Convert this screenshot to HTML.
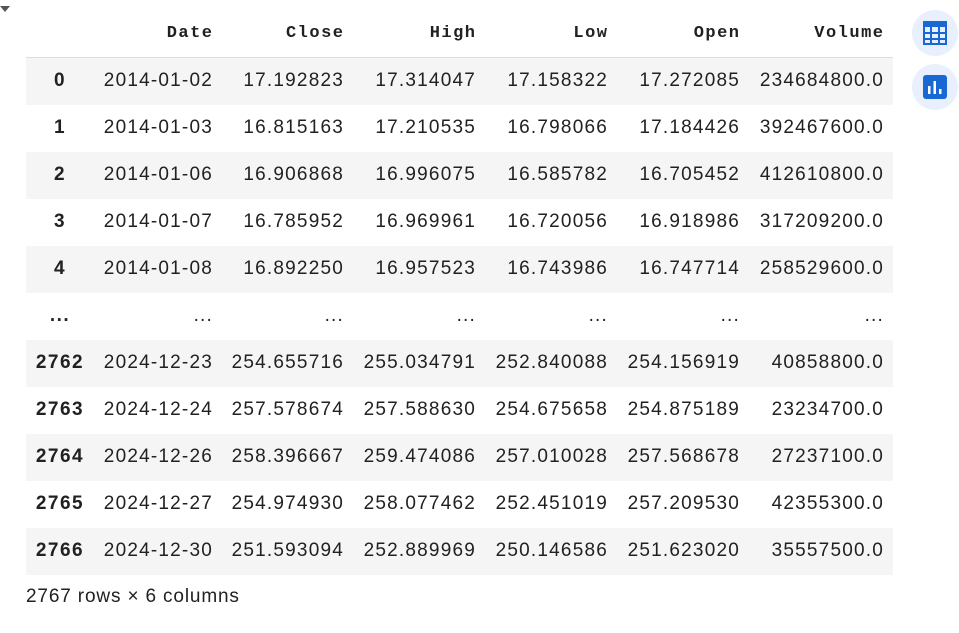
<!DOCTYPE html>
<html><head><meta charset="utf-8"><style>
body{margin:0;width:959px;height:633px;background:#fff;overflow:hidden;font-family:"Liberation Sans",sans-serif;color:#212121;position:relative}
table{position:absolute;left:26px;top:0;border-collapse:collapse;table-layout:fixed;width:867px;font-size:19px;letter-spacing:1.2px}
th{font-family:"Liberation Mono",monospace;font-weight:bold;font-size:17px;letter-spacing:1.5px;height:57px;text-align:right;padding:0 6.5px 0 8px;border-bottom:1px solid #ddd;box-sizing:border-box;vertical-align:middle;padding-top:10px}
td{height:47px;text-align:right;padding:0 7px 0 8px;vertical-align:middle}
td.i{text-align:center;font-weight:bold;padding:0;letter-spacing:1.5px}
tbody tr:nth-child(odd){background:#f5f5f5}
.tri{position:absolute;left:0;top:6px;width:0;height:0;border-left:5px solid transparent;border-right:5px solid transparent;border-top:6px solid #555}
.ic{position:absolute;left:912px;width:46px;height:46px;border-radius:50%;background:#e8f0fe}
.foot{position:absolute;left:26px;top:586px;font-size:19px;letter-spacing:0.85px}
</style></head><body>
<div class="tri"></div>
<table>
<colgroup><col style="width:68px"><col style="width:126px"><col style="width:131px"><col style="width:132px"><col style="width:132px"><col style="width:132px"><col style="width:146px"></colgroup>
<thead><tr><th></th><th>Date</th><th>Close</th><th>High</th><th>Low</th><th>Open</th><th style="padding-right:8.5px">Volume</th></tr></thead>
<tbody>
<tr><td class="i">0</td><td>2014-01-02</td><td>17.192823</td><td>17.314047</td><td>17.158322</td><td>17.272085</td><td style="padding-right:9px">234684800.0</td></tr>
<tr><td class="i">1</td><td>2014-01-03</td><td>16.815163</td><td>17.210535</td><td>16.798066</td><td>17.184426</td><td style="padding-right:9px">392467600.0</td></tr>
<tr><td class="i">2</td><td>2014-01-06</td><td>16.906868</td><td>16.996075</td><td>16.585782</td><td>16.705452</td><td style="padding-right:9px">412610800.0</td></tr>
<tr><td class="i">3</td><td>2014-01-07</td><td>16.785952</td><td>16.969961</td><td>16.720056</td><td>16.918986</td><td style="padding-right:9px">317209200.0</td></tr>
<tr><td class="i">4</td><td>2014-01-08</td><td>16.892250</td><td>16.957523</td><td>16.743986</td><td>16.747714</td><td style="padding-right:9px">258529600.0</td></tr>
<tr><td class="i">...</td><td>...</td><td>...</td><td>...</td><td>...</td><td>...</td><td style="padding-right:9px">...</td></tr>
<tr><td class="i">2762</td><td>2024-12-23</td><td>254.655716</td><td>255.034791</td><td>252.840088</td><td>254.156919</td><td style="padding-right:9px">40858800.0</td></tr>
<tr><td class="i">2763</td><td>2024-12-24</td><td>257.578674</td><td>257.588630</td><td>254.675658</td><td>254.875189</td><td style="padding-right:9px">23234700.0</td></tr>
<tr><td class="i">2764</td><td>2024-12-26</td><td>258.396667</td><td>259.474086</td><td>257.010028</td><td>257.568678</td><td style="padding-right:9px">27237100.0</td></tr>
<tr><td class="i">2765</td><td>2024-12-27</td><td>254.974930</td><td>258.077462</td><td>252.451019</td><td>257.209530</td><td style="padding-right:9px">42355300.0</td></tr>
<tr><td class="i">2766</td><td>2024-12-30</td><td>251.593094</td><td>252.889969</td><td>250.146586</td><td>251.623020</td><td style="padding-right:9px">35557500.0</td></tr>
</tbody></table>
<div class="foot">2767 rows × 6 columns</div>
<div class="ic" style="top:10px">
<svg width="46" height="46" viewBox="0 0 46 46"><rect x="12" y="12" width="22" height="22" fill="none" stroke="#1967d2" stroke-width="2"/><rect x="12" y="12" width="22" height="5" fill="#1967d2"/><line x1="12" y1="23" x2="34" y2="23" stroke="#1967d2" stroke-width="2"/><line x1="12" y1="29" x2="34" y2="29" stroke="#1967d2" stroke-width="2"/><line x1="19" y1="17" x2="19" y2="34" stroke="#1967d2" stroke-width="2"/><line x1="27" y1="17" x2="27" y2="34" stroke="#1967d2" stroke-width="2"/></svg></div>
<div class="ic" style="top:64px">
<svg width="46" height="46" viewBox="0 0 46 46"><rect x="11" y="11" width="24" height="24" rx="3" fill="#1967d2"/><rect x="16" y="22" width="2.5" height="8" fill="#fff"/><rect x="21.5" y="17" width="2.5" height="13" fill="#fff"/><rect x="27" y="25" width="2.5" height="5" fill="#fff"/></svg></div>
</body></html>
